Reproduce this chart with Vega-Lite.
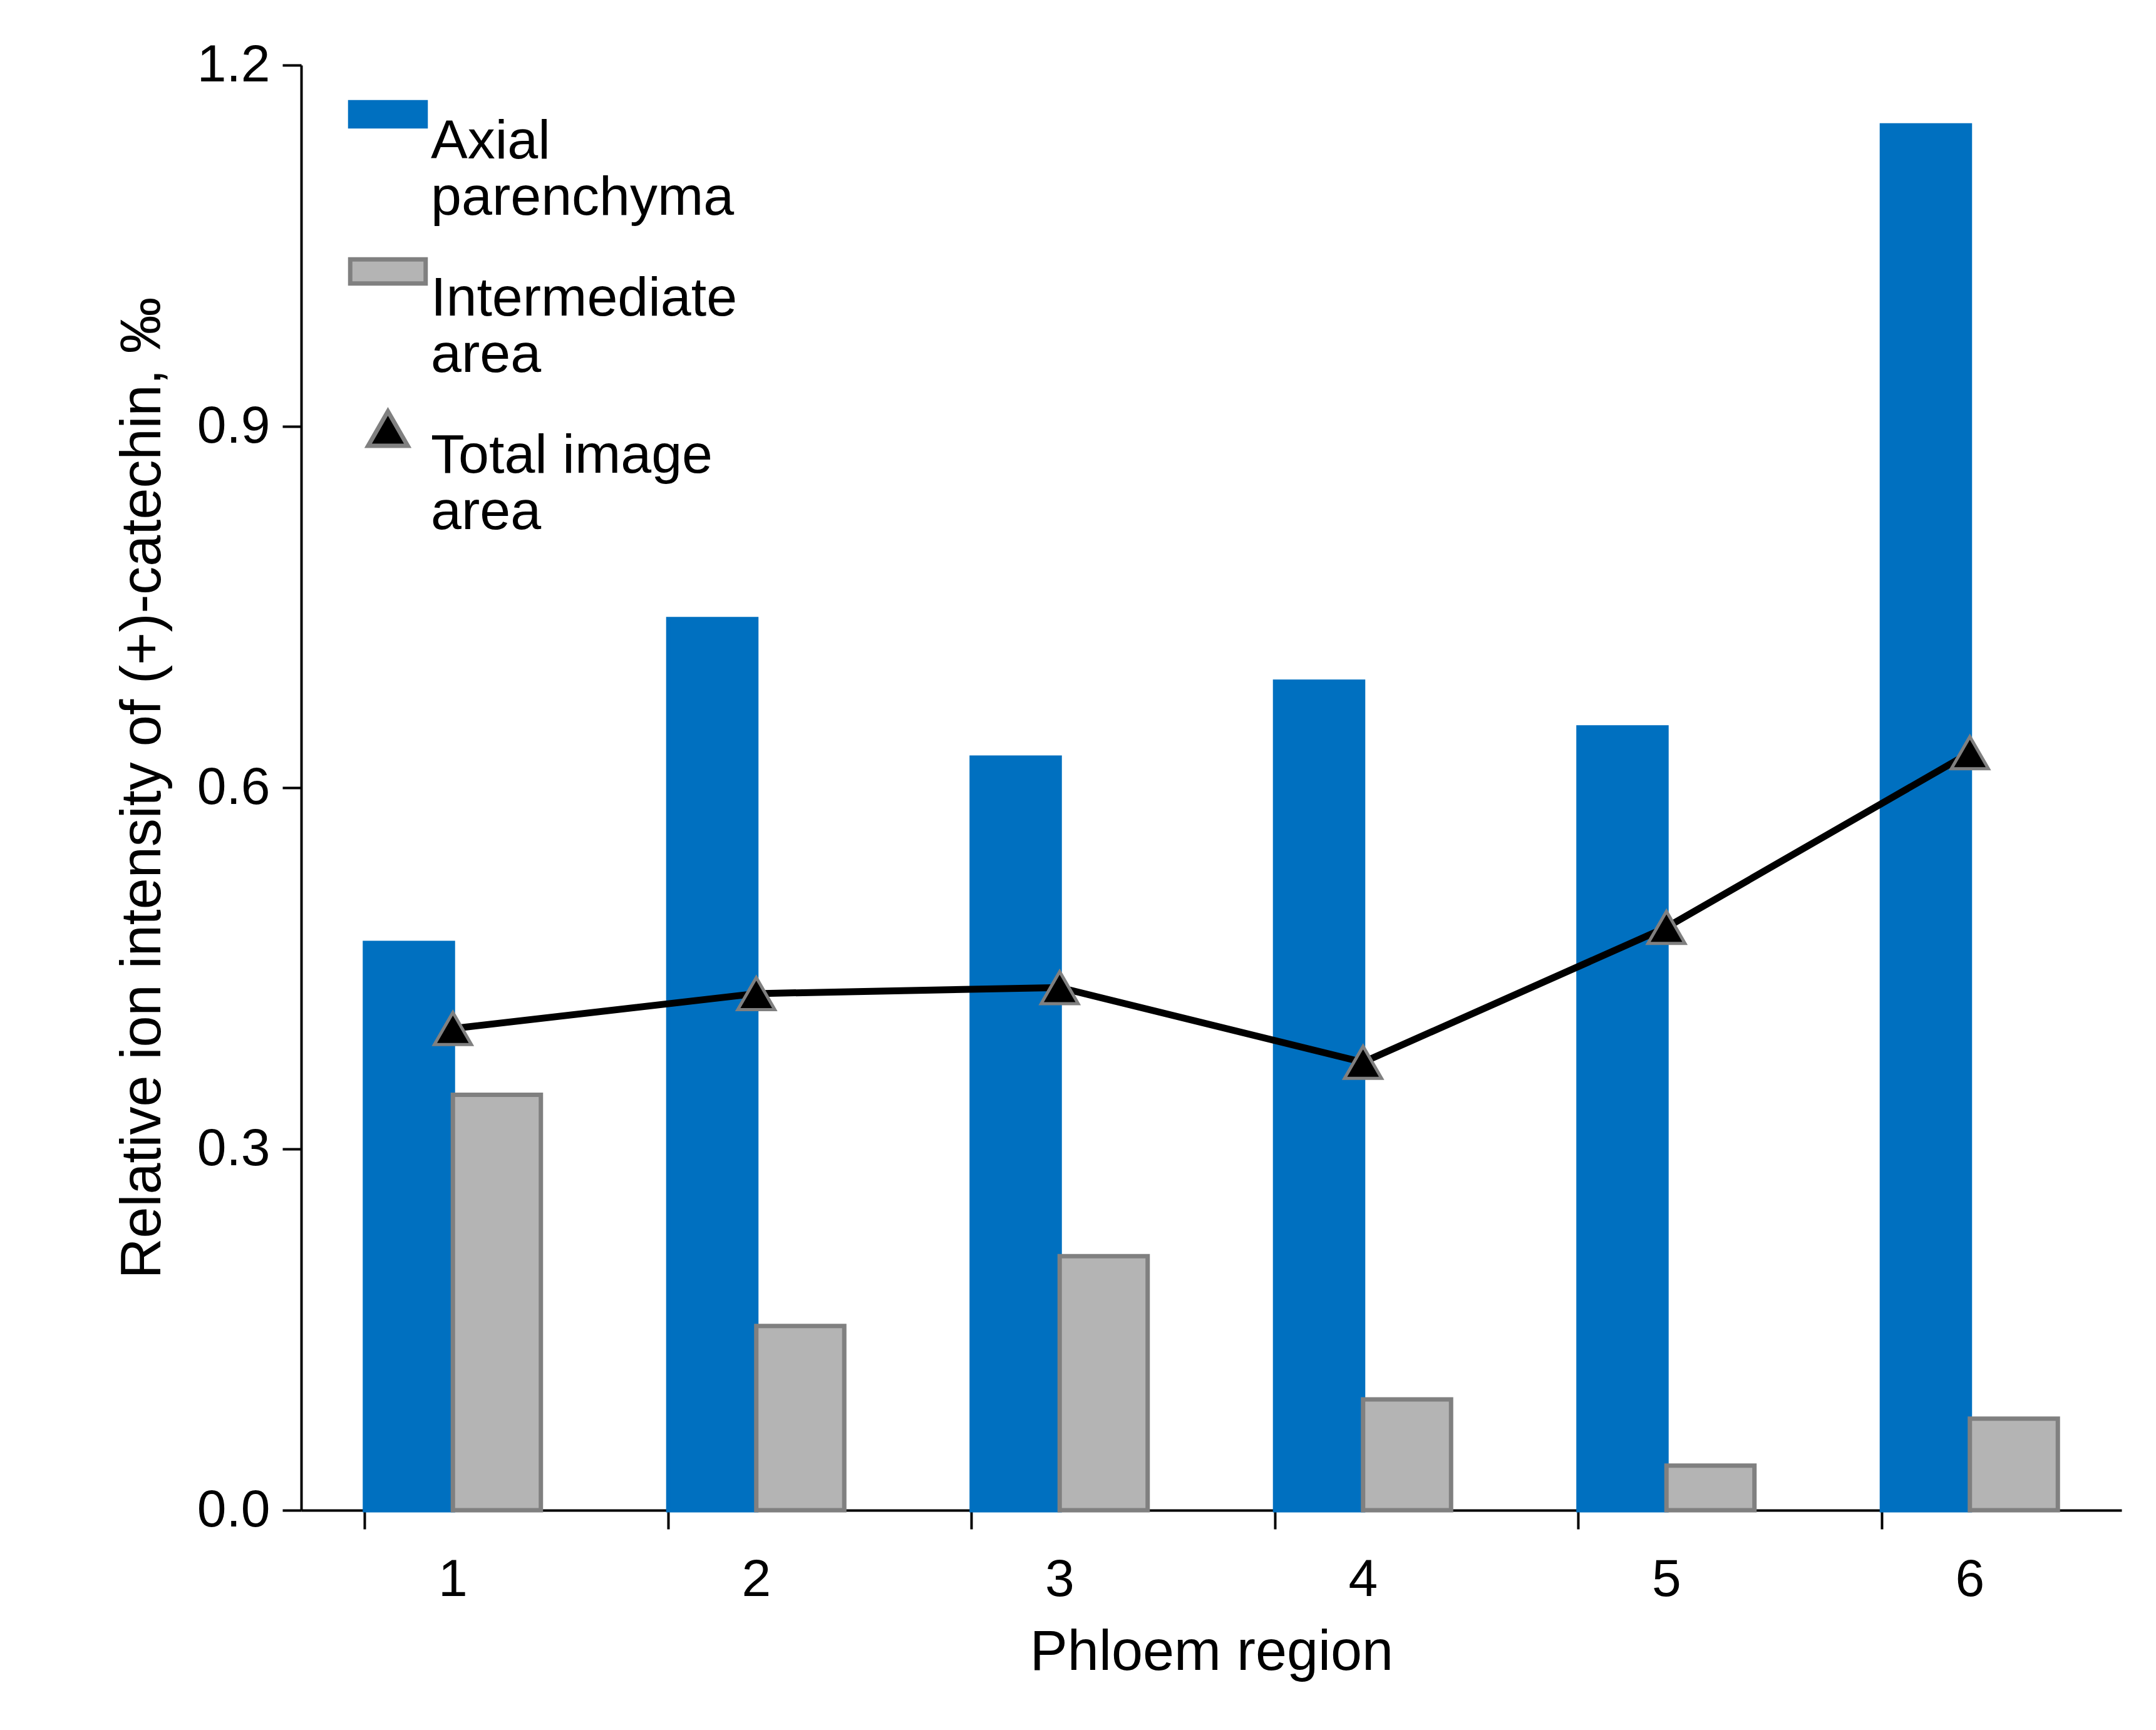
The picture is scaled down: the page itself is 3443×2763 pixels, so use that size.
{
  "$schema": "https://vega.github.io/schema/vega-lite/v6.json",
  "width": 2907,
  "height": 2308,
  "autosize": "none",
  "padding": {"left": 481, "top": 104, "right": 55, "bottom": 351},
  "background": "white",
  "config": {"font": "Liberation Sans", "view": {"stroke": null}},
  "datasets": {
    "bars": [
      {"region": "1", "series": "Axial parenchyma", "value": 0.471},
      {"region": "1", "series": "Intermediate area", "value": 0.345},
      {"region": "2", "series": "Axial parenchyma", "value": 0.740},
      {"region": "2", "series": "Intermediate area", "value": 0.153},
      {"region": "3", "series": "Axial parenchyma", "value": 0.625},
      {"region": "3", "series": "Intermediate area", "value": 0.211},
      {"region": "4", "series": "Axial parenchyma", "value": 0.688},
      {"region": "4", "series": "Intermediate area", "value": 0.092},
      {"region": "5", "series": "Axial parenchyma", "value": 0.650},
      {"region": "5", "series": "Intermediate area", "value": 0.037},
      {"region": "6", "series": "Axial parenchyma", "value": 1.150},
      {"region": "6", "series": "Intermediate area", "value": 0.076}
    ],
    "total": [
      {"region": "1", "series": "Total image area", "value": 0.400},
      {"region": "2", "series": "Total image area", "value": 0.429},
      {"region": "3", "series": "Total image area", "value": 0.434},
      {"region": "4", "series": "Total image area", "value": 0.372},
      {"region": "5", "series": "Total image area", "value": 0.484},
      {"region": "6", "series": "Total image area", "value": 0.629}
    ]
  },
  "encoding": {
    "x": {
      "field": "region", "type": "nominal",
      "scale": {"paddingInner": 0.42, "paddingOuter": 0.21},
      "axis": {
        "title": "Phloem region", "labelAngle": 0, "bandPosition": 0,
        "labelFontSize": 84, "titleFontSize": 90, "labelColor": "black", "titleColor": "black",
        "titleFontWeight": "normal", "domainColor": "black", "tickColor": "black",
        "domainWidth": 4, "tickWidth": 4, "tickSize": 30, "labelPadding": 40, "titlePadding": 30
      }
    },
    "y": {
      "field": "value", "type": "quantitative",
      "scale": {"domain": [0, 1.2]},
      "axis": {
        "title": "Relative ion intensity of (+)-catechin, ‰",
        "values": [0, 0.3, 0.6, 0.9, 1.2], "grid": false,
        "labelFontSize": 84, "titleFontSize": 90, "labelColor": "black", "titleColor": "black",
        "titleFontWeight": "normal", "domainColor": "black", "tickColor": "black",
        "domainWidth": 4, "tickWidth": 4, "tickSize": 30, "labelPadding": 20, "titlePadding": 40
      }
    }
  },
  "layer": [
    {
      "data": {"name": "bars"},
      "mark": {"type": "bar", "strokeWidth": 7},
      "encoding": {
        "xOffset": {"field": "series", "type": "nominal", "sort": ["Axial parenchyma", "Intermediate area"]},
        "fill": {
          "field": "series", "type": "nominal",
          "scale": {"domain": ["Axial parenchyma", "Intermediate area", "Total image area"], "range": ["#0070C0", "#B4B4B4", "black"]},
          "legend": {
            "orient": "none", "legendX": 80, "legendY": 20, "title": null,
            "labelFontSize": 88, "labelColor": "black", "labelLimit": 1000,
            "symbolSize": 12000, "symbolStrokeWidth": 7, "rowPadding": 14, "labelOffset": 10,
            "labelExpr": "datum.label == 'Axial parenchyma' ? ['Axial', 'parenchyma'] : datum.label == 'Intermediate area' ? ['Intermediate', 'area'] : ['Total image', 'area']",
            "labelBaseline": "top",
            "encode": {
              "symbols": {"update": {
                "shape": {"signal": "datum.label == 'Total image area' ? 'triangle-up' : 'M-1.1,-0.35H1.1V0.35H-1.1Z'"},
                "stroke": {"signal": "datum.label == 'Axial parenchyma' ? '#0070C0' : '#808080'"},
                "size": {"signal": "datum.label == 'Total image area' ? 4000 : 12000"}
              }}
            }
          }
        },
        "stroke": {
          "field": "series", "type": "nominal",
          "scale": {"domain": ["Axial parenchyma", "Intermediate area"], "range": ["#0070C0", "#808080"]},
          "legend": null
        }
      }
    },
    {
      "data": {"name": "total"},
      "mark": {"type": "line", "color": "black", "strokeWidth": 11, "point": {"shape": "triangle-up", "size": 3500, "filled": true, "fill": "black", "stroke": "#808080", "strokeWidth": 5}},
      "encoding": {}
    }
  ]
}
